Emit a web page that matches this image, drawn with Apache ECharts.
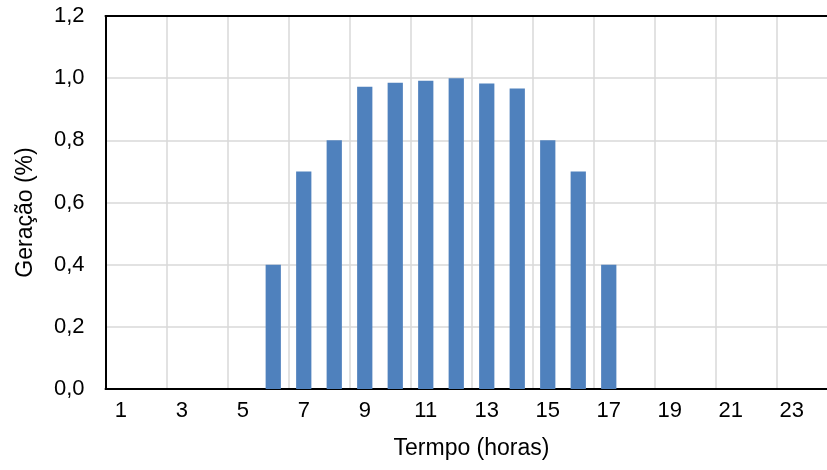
<!DOCTYPE html>
<html>
<head>
<meta charset="utf-8">
<script src="https://cdn.jsdelivr.net/npm/echarts@6/dist/echarts.min.js"></script>
<style>html,body{margin:0;padding:0;background:#fff}#c{width:827px;height:470px}</style>
</head>
<body>
<div id="c"></div>
<script>
var hours = ['1','2','3','4','5','6','7','8','9','10','11','12','13','14','15','16','17','18','19','20','21','22','23','24'];
var generation = [0,0,0,0,0,0.4,0.7,0.8,0.972,0.985,0.992,1.0,0.983,0.967,0.8,0.7,0.4,0,0,0,0,0,0,0];
var yTicks = [0,0.2,0.4,0.6,0.8,1.0,1.2];
var xTitle = 'Termpo (horas)';
var yTitle = 'Geração (%)';

var chart = echarts.init(document.getElementById('c'));
var font = 'Liberation Sans, Arial, sans-serif';
chart.setOption({
  animation: false,
  backgroundColor: '#fff',
  grid: {left: 105.5, top: 16, width: 732, height: 373, containLabel: false, outerBoundsMode: 'none'},
  xAxis: [{
    type: 'category',
    data: hours,
    boundaryGap: true,
    axisLine: {lineStyle: {color: '#000', width: 2}},
    axisTick: {show: false},
    axisLabel: {interval: 1, color: '#000', fontSize: 22, fontFamily: font, margin: 11},
    splitLine: {show: true, interval: 1, lineStyle: {color: '#d9d9d9', width: 1.5}},
    name: xTitle,
    nameLocation: 'middle',
    nameGap: 48,
    nameTextStyle: {color: '#000', fontSize: 23, fontFamily: font}
  }, {
    type: 'category',
    data: hours,
    position: 'top',
    axisLine: {show: true, lineStyle: {color: '#000', width: 2}},
    axisTick: {show: false},
    axisLabel: {show: false},
    splitLine: {show: false}
  }],
  yAxis: {
    type: 'value',
    min: yTicks[0],
    max: yTicks[yTicks.length - 1],
    interval: 0.2,
    axisLine: {show: true, lineStyle: {color: '#000', width: 2}},
    axisTick: {show: false},
    axisLabel: {color: '#000', fontSize: 22, fontFamily: font, margin: 21,
      formatter: function (v) { return v.toFixed(1).replace('.', ','); }},
    splitLine: {show: true, lineStyle: {color: '#d9d9d9', width: 1.5}},
    name: yTitle,
    nameLocation: 'middle',
    nameGap: 68,
    nameRotate: 90,
    nameTextStyle: {color: '#000', fontSize: 23, fontFamily: font, padding: [0, 20, 0, 0]}
  },
  series: [{
    type: 'bar',
    data: generation,
    barWidth: '50%',
    itemStyle: {color: '#4f81bd'}
  }]
});
</script>
</body>
</html>
